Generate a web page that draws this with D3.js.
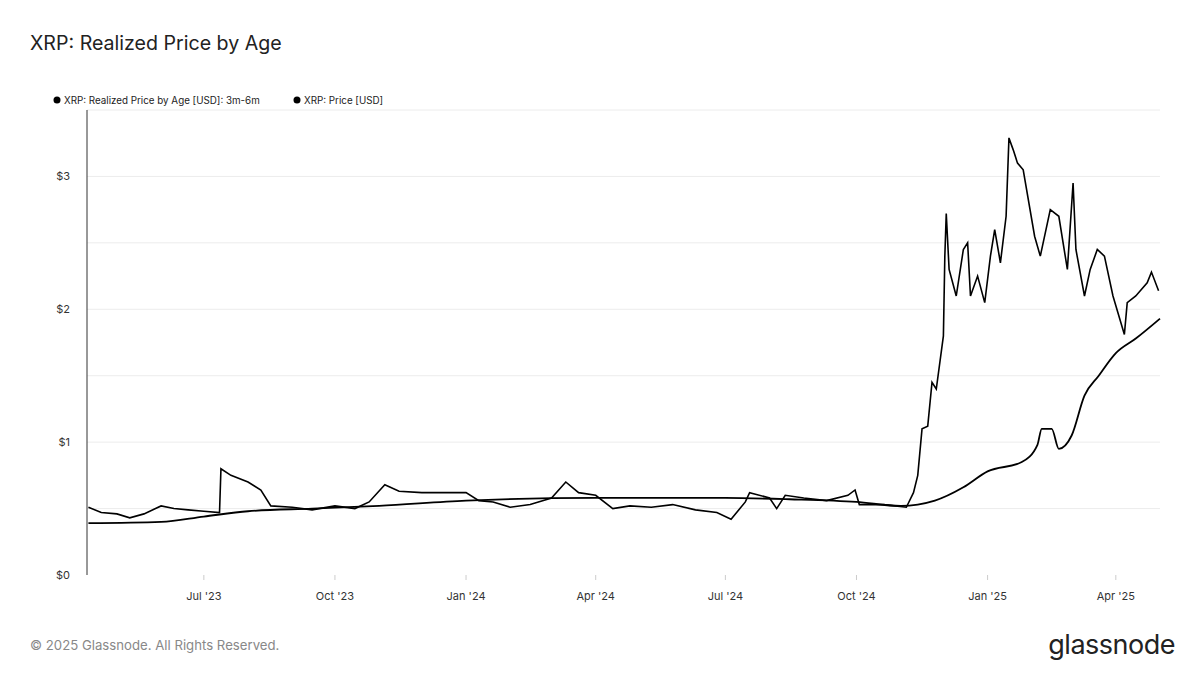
<!DOCTYPE html>
<html><head><meta charset="utf-8">
<script src="https://cdn.jsdelivr.net/npm/d3@7"></script>
<style>body{margin:0;background:#fff;font-family:Inter,"Noto Sans",sans-serif}</style>
</head><body><svg id="c" width="1200" height="675"></svg>
<script>
const priceDates=["2023-04-11","2023-04-20","2023-05-01","2023-05-10","2023-05-20","2023-06-01","2023-06-10","2023-06-20","2023-07-01","2023-07-12","2023-07-13","2023-07-20","2023-08-01","2023-08-10","2023-08-17","2023-09-01","2023-09-15","2023-10-01","2023-10-15","2023-10-25","2023-11-05","2023-11-15","2023-12-01","2023-12-15","2024-01-01","2024-01-10","2024-01-20","2024-02-01","2024-02-15","2024-03-01","2024-03-11","2024-03-20","2024-04-01","2024-04-13","2024-04-25","2024-05-10","2024-05-25","2024-06-10","2024-06-25","2024-07-05","2024-07-15","2024-07-18","2024-08-01","2024-08-06","2024-08-12","2024-08-25","2024-09-10","2024-09-25","2024-09-30","2024-10-03","2024-10-20","2024-11-05","2024-11-10","2024-11-13","2024-11-16","2024-11-20","2024-11-23","2024-11-26","2024-12-01","2024-12-02","2024-12-03","2024-12-05","2024-12-10","2024-12-15","2024-12-18","2024-12-20","2024-12-25","2024-12-30","2025-01-03","2025-01-06","2025-01-10","2025-01-14","2025-01-16","2025-01-19","2025-01-22","2025-01-26","2025-02-03","2025-02-07","2025-02-14","2025-02-20","2025-02-26","2025-03-02","2025-03-04","2025-03-10","2025-03-14","2025-03-19","2025-03-24","2025-03-30","2025-04-07","2025-04-09","2025-04-15","2025-04-23","2025-04-26","2025-05-01"];
const priceValues=[0.51,0.47,0.46,0.43,0.46,0.52,0.50,0.49,0.48,0.47,0.80,0.75,0.70,0.64,0.52,0.51,0.49,0.52,0.50,0.55,0.68,0.63,0.62,0.62,0.62,0.56,0.55,0.51,0.53,0.58,0.70,0.62,0.60,0.50,0.52,0.51,0.53,0.49,0.47,0.42,0.55,0.62,0.58,0.50,0.60,0.58,0.56,0.60,0.64,0.53,0.53,0.51,0.62,0.75,1.10,1.12,1.45,1.40,1.80,2.40,2.72,2.30,2.10,2.45,2.50,2.10,2.25,2.05,2.40,2.60,2.35,2.70,3.29,3.20,3.10,3.05,2.55,2.40,2.75,2.70,2.30,2.95,2.45,2.10,2.30,2.45,2.40,2.10,1.81,2.05,2.10,2.20,2.28,2.14];
const realizedDates=["2023-04-11","2023-06-01","2023-07-01","2023-08-01","2023-09-15","2023-11-01","2024-01-01","2024-04-01","2024-07-01","2024-08-15","2024-10-01","2024-11-01","2024-11-25","2024-12-15","2025-01-01","2025-01-25","2025-02-05","2025-02-08","2025-02-15","2025-02-20","2025-03-01","2025-03-10","2025-03-20","2025-04-01","2025-04-15","2025-05-02"];
const realizedValues=[0.39,0.40,0.44,0.48,0.50,0.52,0.56,0.58,0.58,0.57,0.55,0.52,0.56,0.66,0.78,0.85,0.98,1.10,1.10,0.95,1.05,1.35,1.50,1.67,1.78,1.93];
const yTicks=[0,1,2,3];
const xTickDates=["2023-07-01","2023-10-01","2024-01-01","2024-04-01","2024-07-01","2024-10-01","2025-01-01","2025-04-01"];
const xTickLabels=["Jul '23","Oct '23","Jan '24","Apr '24","Jul '24","Oct '24","Jan '25","Apr '25"];
const legendLabels=["XRP: Realized Price by Age [USD]: 3m-6m","XRP: Price [USD]"];

const p=d3.timeParse("%Y-%m-%d");
const svg=d3.select("#c");
const L=87,R=1160,T=110,B=575;
const x=d3.scaleTime().domain([p("2023-04-10"),p("2025-05-02")]).range([L,R]);
const y=d3.scaleLinear().domain([0,3.5]).range([B,T]);
svg.append("text").attr("x",30).attr("y",50).attr("font-size",19.6).attr("fill","#222").text("XRP: Realized Price by Age");
svg.append("g").selectAll("line").data(d3.range(0.5,3.51,0.5)).join("line")
 .attr("x1",L).attr("x2",R).attr("y1",d=>y(d)).attr("y2",d=>y(d)).attr("stroke","#ececec");
svg.append("line").attr("x1",L).attr("x2",L).attr("y1",T).attr("y2",B).attr("stroke","#333");
svg.append("g").selectAll("text").data(yTicks).join("text").attr("x",70).attr("y",d=>y(d)+4)
 .attr("text-anchor","end").attr("font-size",11).attr("fill","#333").text(d=>"$"+d);
svg.append("g").selectAll("text").data(xTickDates).join("text").attr("x",d=>x(p(d))).attr("y",B+25)
 .attr("text-anchor","middle").attr("font-size",11).attr("fill","#333").text((d,i)=>xTickLabels[i]);
svg.append("g").selectAll("line").data(xTickDates).join("line").attr("x1",d=>x(p(d))).attr("x2",d=>x(p(d)))
 .attr("y1",B).attr("y2",B+5).attr("stroke","#ccc");
const line=d3.line().x(d=>x(d[0])).y(d=>y(d[1]));
svg.append("path").attr("d",line(priceDates.map((d,i)=>[p(d),priceValues[i]]))).attr("fill","none").attr("stroke","#000").attr("stroke-width",1.6);
svg.append("path").attr("d",line.curve(d3.curveMonotoneX)(realizedDates.map((d,i)=>[p(d),realizedValues[i]]))).attr("fill","none").attr("stroke","#000").attr("stroke-width",1.8);
const lx=[57,297];
legendLabels.forEach((t,i)=>{
 svg.append("circle").attr("cx",lx[i]).attr("cy",100).attr("r",3.5).attr("fill","#000");
 svg.append("text").attr("x",lx[i]+7).attr("y",103.5).attr("font-size",9.8).attr("fill","#222").text(t);
});
svg.append("text").attr("x",30).attr("y",650).attr("font-size",13.2).attr("fill","#888").text("© 2025 Glassnode. All Rights Reserved.");
svg.append("text").attr("x",1175).attr("y",654).attr("text-anchor","end").attr("font-size",27).attr("fill","#222").attr("letter-spacing","-0.5").text("glassnode");
</script></body></html>
